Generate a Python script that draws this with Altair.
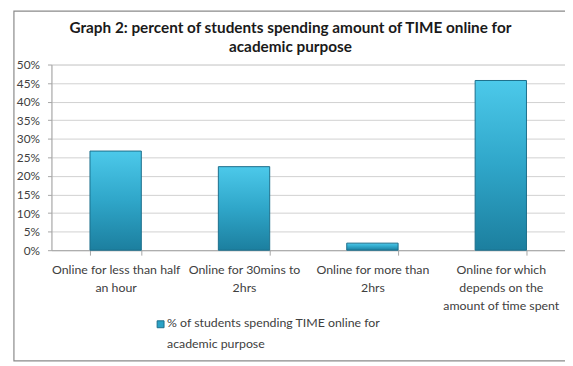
import altair as alt
import pandas as pd

categories = [
    "Online for less than half\nan hour",
    "Online for 30mins to\n2hrs",
    "Online for more than\n2hrs",
    "Online for  which\ndepends on the\namount of time spent",
]
values = [0.267, 0.225, 0.019, 0.457]
series_name = "% of students spending TIME online for academic purpose"
legend_lines = ["% of students spending TIME online for", "academic purpose"]
title_lines = ["Graph 2: percent of students spending amount of TIME online for", "academic purpose"]
y_ticks = [0, 0.05, 0.10, 0.15, 0.20, 0.25, 0.30, 0.35, 0.40, 0.45, 0.50]

df = pd.DataFrame({"category": categories, "value": values, "series": series_name})

FONT = "Lato"
W, H = 520, 188

grad = alt.LinearGradient(
    gradient="linear",
    stops=[
        alt.GradientStop(color="#4cc9ea", offset=0),
        alt.GradientStop(color="#2fa6c9", offset=0.5),
        alt.GradientStop(color="#1c7f9f", offset=1),
    ],
    x1=0, x2=0, y1=0, y2=1,
)

bars = alt.Chart(df).mark_bar(fill=grad, stroke="#1b6e8a", strokeWidth=1).encode(
    x=alt.X(
        "category:N",
        sort=categories,
        title=None,
        scale=alt.Scale(paddingInner=0.6, paddingOuter=0.3),
        axis=alt.Axis(
            labelAngle=0,
            labelExpr="split(datum.label, '\\n')",
            labelFont=FONT,
            labelFontSize=12.5,
            labelColor="#404040",
            labelLineHeight=18,
            labelPadding=9,
            tickSize=5,
            tickBand="extent",
            tickColor="#a6a6a6",
            domainColor="#a6a6a6",
            grid=False,
            labelLimit=200,
        ),
    ),
    y=alt.Y(
        "value:Q",
        title=None,
        scale=alt.Scale(domain=[0, 0.5], nice=False),
        axis=alt.Axis(
            values=y_ticks,
            format=".0%",
            labelFont=FONT,
            labelFontSize=12,
            labelColor="#404040",
            labelPadding=8,
            tickSize=4,
            tickColor="#a6a6a6",
            domainColor="#a6a6a6",
            gridColor="#d0d0d0",
        ),
    ),
)

dummy = alt.Data(values=[{"a": 1}])

title_text = alt.Chart(dummy).mark_text(
    text=title_lines,
    align="center",
    baseline="top",
    font=FONT,
    fontSize=15.5,
    fontWeight="bold",
    lineHeight=19,
    color="#1a1a1a",
).encode(x=alt.value(242), y=alt.value(-44))

legend_symbol = alt.Chart(dummy).mark_square(
    size=49, fill="#2aa2c6", stroke="#1b6e8a", strokeWidth=1, opacity=1
).encode(x=alt.value(110.5), y=alt.value(263))

legend_text = alt.Chart(dummy).mark_text(
    text=legend_lines,
    align="left",
    baseline="top",
    font=FONT,
    fontSize=12.5,
    lineHeight=21,
    color="#404040",
).encode(x=alt.value(117), y=alt.value(256))

border = alt.Chart(dummy).mark_rect(
    fill="transparent", stroke="#8a8a8a", strokeWidth=1.2
).encode(
    x=alt.value(-38), x2=alt.value(W + 30),
    y=alt.value(-54), y2=alt.value(300),
)

chart = alt.layer(border, bars, title_text, legend_symbol, legend_text).properties(
    width=W,
    height=H,
    autosize=alt.AutoSizeParams(type="none"),
    padding={"left": 44, "top": 55, "right": 0, "bottom": 113},
).configure_view(stroke=None).configure(background="white")

chart.save("out.html", embed_options={"renderer": "svg", "actions": False})
